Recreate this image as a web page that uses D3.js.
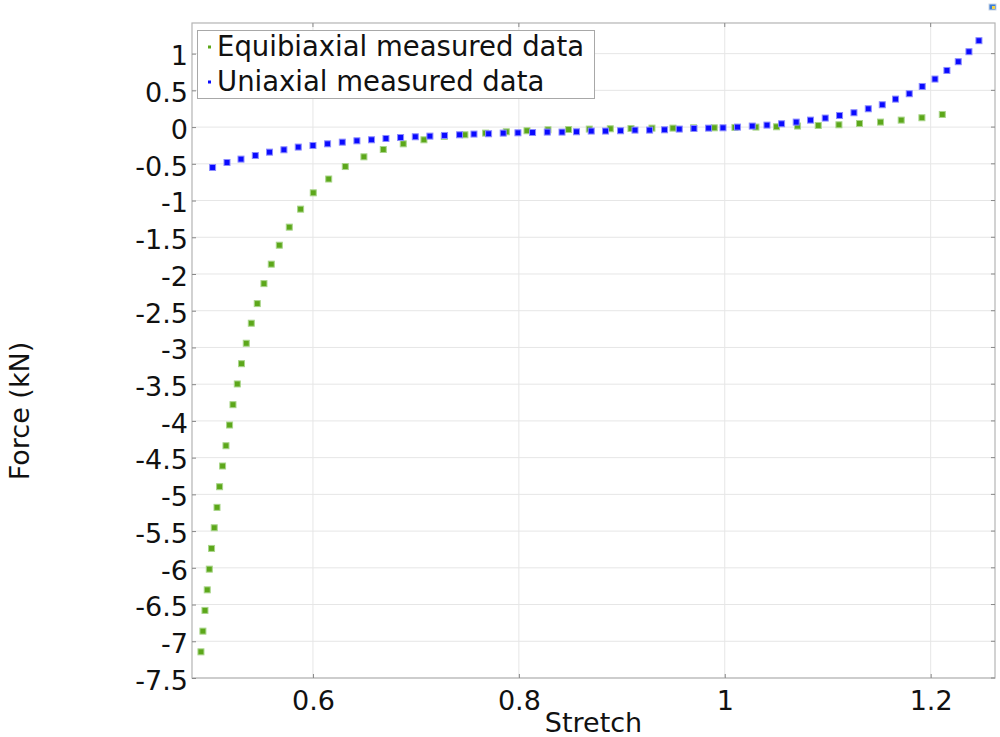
<!DOCTYPE html>
<html>
<head>
<meta charset="utf-8">
<script src="https://cdn.jsdelivr.net/npm/d3@7"></script>
<style>
  html, body { margin: 0; padding: 0; background: #fff; }
  svg { display: block; }
  text { font-family: "DejaVu Sans", sans-serif; fill: #111; }
</style>
</head>
<body>
<script>
const equiStretch = [0.4912,0.4931,0.4951,0.4973,0.4993,0.5015,0.5041,0.5068,0.5093,0.5122,0.5155,0.5190,0.5223,0.5265,0.5306,0.5352,0.5401,0.5459,0.5524,0.5595,0.5673,0.5770,0.5880,0.6003,0.6153,0.6314,0.6495,0.6683,0.6877,0.7078,0.7275,0.7476,0.7677,0.7878,0.8079,0.8283,0.8483,0.8684,0.8888,0.9089,0.9293,0.9497,0.9697,0.9898,1.0099,1.0303,1.0503,1.0707,1.0908,1.1109,1.1309,1.1513,1.1714,1.1915,1.2113];
const equiForce = [-7.144,-6.862,-6.580,-6.300,-6.018,-5.736,-5.455,-5.177,-4.896,-4.614,-4.338,-4.056,-3.779,-3.497,-3.221,-2.943,-2.670,-2.403,-2.131,-1.866,-1.608,-1.362,-1.117,-0.895,-0.707,-0.537,-0.405,-0.305,-0.228,-0.173,-0.128,-0.105,-0.082,-0.064,-0.050,-0.037,-0.033,-0.027,-0.023,-0.019,-0.014,-0.014,-0.010,-0.010,-0.005,0.000,0.004,0.014,0.022,0.031,0.049,0.068,0.095,0.127,0.172];
const uniStretch = [0.5025,0.5165,0.5301,0.5440,0.5578,0.5718,0.5857,0.6000,0.6142,0.6285,0.6427,0.6569,0.6709,0.6851,0.6994,0.7136,0.7278,0.7424,0.7564,0.7706,0.7848,0.7991,0.8133,0.8276,0.8419,0.8560,0.8703,0.8842,0.8988,0.9128,0.9270,0.9415,0.9558,0.9701,0.9843,0.9983,1.0124,1.0267,1.0410,1.0552,1.0694,1.0833,1.0976,1.1115,1.1255,1.1394,1.1530,1.1659,1.1792,1.1918,1.2042,1.2158,1.2268,1.2372,1.2469];
const uniForce = [-0.550,-0.482,-0.436,-0.387,-0.341,-0.309,-0.272,-0.251,-0.228,-0.205,-0.187,-0.173,-0.155,-0.142,-0.132,-0.123,-0.114,-0.105,-0.095,-0.091,-0.082,-0.078,-0.074,-0.068,-0.068,-0.064,-0.054,-0.054,-0.050,-0.041,-0.041,-0.037,-0.027,-0.019,-0.014,-0.010,0.000,0.014,0.027,0.045,0.068,0.095,0.123,0.158,0.195,0.249,0.304,0.381,0.454,0.553,0.654,0.771,0.890,1.026,1.176];
const xTicks = [0.6, 0.8, 1, 1.2];
const yTicks = [1,0.5,0,-0.5,-1,-1.5,-2,-2.5,-3,-3.5,-4,-4.5,-5,-5.5,-6,-6.5,-7,-7.5];
const seriesNames = ["Equibiaxial measured data", "Uniaxial measured data"];
const xTitle = "Stretch";
const yTitle = "Force (kN)";

const W = 1000, H = 737;
const L = 192, T = 23, R = 995, B = 678;
const green = "#5ca71a", greenHalo = "#a9d58a";
const blue = "#0a0aff", blueHalo = "#8c8cff";

const svg = d3.select("body").append("svg").attr("width", W).attr("height", H);

const x = d3.scaleLinear().domain([0.4825, 1.2625]).range([L, R]);
const y = d3.scaleLinear().domain([-7.5, 1.417]).range([B, T]);

// grid
const g = svg.append("g");
g.selectAll(".vg").data(xTicks).enter().append("line")
  .attr("x1", d => x(d)).attr("x2", d => x(d)).attr("y1", T).attr("y2", B)
  .attr("stroke", "#e6e6e6").attr("stroke-width", 1);
g.selectAll(".hg").data(yTicks).enter().append("line")
  .attr("x1", L).attr("x2", R).attr("y1", d => y(d)).attr("y2", d => y(d))
  .attr("stroke", "#e6e6e6").attr("stroke-width", 1);

// frame
svg.append("rect").attr("x", L).attr("y", T).attr("width", R - L).attr("height", B - T)
  .attr("fill", "none").attr("stroke", "#b4b4b4").attr("stroke-width", 1.2);

// axes via d3
const xAxis = d3.axisBottom(x).tickValues(xTicks).tickSize(4).tickFormat(d => String(d));
const yAxis = d3.axisLeft(y).tickValues(yTicks).tickSize(4).tickFormat(d => String(d));

const xa = svg.append("g").attr("transform", `translate(0,${B})`).call(xAxis);
xa.select(".domain").remove();
xa.selectAll(".tick line").attr("y2", -4).attr("stroke", "#888");
xa.selectAll(".tick text").attr("y", 32).attr("dy", 0)
  .style("font-family", "DejaVu Sans").style("font-size", "27px").attr("fill", "#111");

const ya = svg.append("g").attr("transform", `translate(${L},0)`).call(yAxis);
ya.select(".domain").remove();
ya.selectAll(".tick line").attr("x2", 4).attr("stroke", "#888");
ya.selectAll(".tick text").attr("x", -4).attr("dy", "0.42em")
  .style("font-family", "DejaVu Sans").style("font-size", "27px").attr("fill", "#111");

// top & right ticks
svg.selectAll(".tt").data(xTicks).enter().append("line")
  .attr("x1", d => x(d)).attr("x2", d => x(d)).attr("y1", T).attr("y2", T + 4).attr("stroke", "#888");
svg.selectAll(".rt").data(yTicks).enter().append("line")
  .attr("x1", R - 4).attr("x2", R).attr("y1", d => y(d)).attr("y2", d => y(d)).attr("stroke", "#888");

// markers
function drawPts(xs, ys, fill, halo) {
  const data = xs.map((v, i) => [v, ys[i]]);
  svg.append("g").selectAll("rect").data(data).enter().append("rect")
    .attr("x", d => x(d[0]) - 3).attr("y", d => y(d[1]) - 3)
    .attr("width", 6).attr("height", 6)
    .attr("fill", fill).attr("stroke", halo).attr("stroke-width", 1);
}
drawPts(equiStretch, equiForce, green, greenHalo);
drawPts(uniStretch, uniForce, blue, blueHalo);

// legend
const lg = svg.append("g");
lg.append("rect").attr("x", 197.5).attr("y", 30.5).attr("width", 397).attr("height", 68)
  .attr("fill", "#fff").attr("stroke", "#a8a8a8").attr("stroke-width", 1);
const legendColors = [green, blue];
seriesNames.forEach((name, i) => {
  lg.append("rect").attr("x", 208).attr("y", 45.5 + i * 35).attr("width", 3).attr("height", 3)
    .attr("fill", legendColors[i]);
  lg.append("text").attr("x", 217).attr("y", 56 + i * 35)
    .style("font-size", "27.5px").text(name);
});

// titles
svg.append("text").attr("x", (L + R) / 2).attr("y", 732).attr("text-anchor", "middle")
  .style("font-size", "27px").text(xTitle);
svg.append("text").attr("transform", "translate(29,411) rotate(-90)").attr("text-anchor", "middle")
  .style("font-size", "27px").text(yTitle);

// small toolbar icon top-right
svg.append("rect").attr("x", 989).attr("y", 4).attr("width", 7).attr("height", 6)
  .attr("fill", "#3b7dd8").attr("stroke", "#c9d6e6").attr("stroke-width", 1);
svg.append("rect").attr("x", 992).attr("y", 6).attr("width", 3).attr("height", 3).attr("fill", "#f2d34a");
</script>
</body>
</html>
